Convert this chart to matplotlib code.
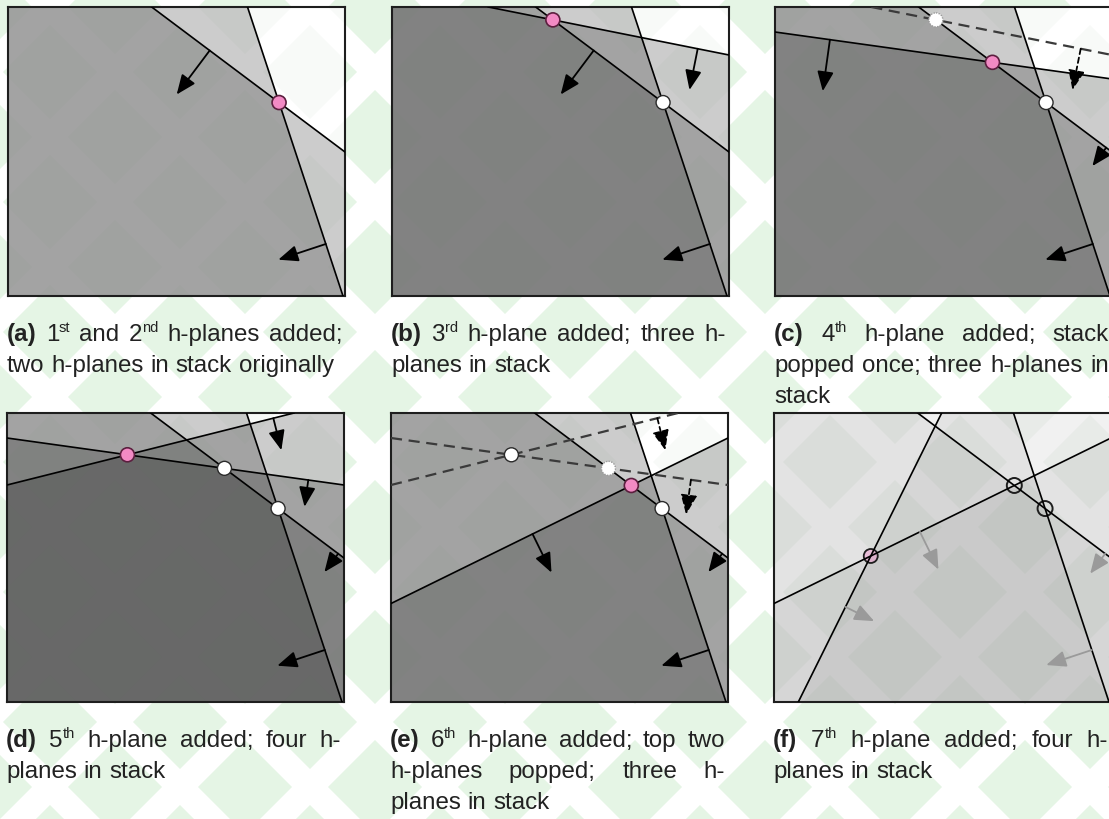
import numpy as np
import matplotlib.pyplot as plt
from matplotlib.patches import Polygon, Circle, FancyArrowPatch
from matplotlib.collections import PatchCollection

W, H = 1109, 819
BOX_W, BOX_H = 337, 289
FONT = 'Liberation Sans'
FS, FS_SUP = 17.4, 10.5
TEXT_C = '#222222'

# boundary lines of the h-planes, in box pixels (x right, y down)
# kept side is the left normal of p0 -> p1
plane_names = ['h1', 'h2', 'h3', 'h4', 'h5', 'h6', 'h7']
plane_p0 = [(239.5, 0), (143.7, 0), (96.3, 0), (0, 25), (0, 72), (0, 190.5), (24.3, 289)]
plane_p1 = [(335, 289), (337, 145), (337, 48), (337, 72), (287, 0), (337, 25), (167.7, 0)]

panel_left = [8, 392, 775, 7, 391, 774]
panel_top = [7, 7, 7, 413, 413, 413]
panel_active = [['h1', 'h2'], ['h1', 'h2', 'h3'], ['h1', 'h2', 'h4'],
                ['h1', 'h2', 'h4', 'h5'], ['h1', 'h2', 'h6'], ['h1', 'h2', 'h6', 'h7']]
panel_popped = [[], [], ['h3'], [], ['h4', 'h5'], []]
# (plane, position along line, length, dashed)
panel_arrows = [
    [('h2', 0.30, 55, False), ('h1', 0.82, 50, False)],
    [('h3', 0.87, 42, False), ('h2', 0.30, 55, False), ('h1', 0.82, 50, False)],
    [('h3', 0.87, 42, True), ('h4', 0.163, 52, False), ('h2', 0.97, 23, False), ('h1', 0.82, 50, False)],
    [('h5', 0.928, 33, False), ('h4', 0.894, 27, False), ('h2', 0.97, 23, False), ('h1', 0.82, 50, False)],
    [('h5', 0.928, 33, True), ('h4', 0.89, 35, True), ('h6', 0.42, 43, False),
     ('h2', 0.97, 23, False), ('h1', 0.82, 50, False)],
    [('h6', 0.433, 42, False), ('h7', 0.329, 32, False), ('h2', 0.97, 25, False), ('h1', 0.82, 48, False)],
]
# intersections marked with a circle
panel_points = [
    [('h1', 'h2', 'pink')],
    [('h2', 'h3', 'pink'), ('h1', 'h2', 'white')],
    [('h2', 'h3', 'ghost'), ('h2', 'h4', 'pink'), ('h1', 'h2', 'white')],
    [('h4', 'h5', 'pink'), ('h2', 'h4', 'white'), ('h1', 'h2', 'white')],
    [('h4', 'h5', 'white'), ('h2', 'h4', 'ghost'), ('h2', 'h6', 'pink'), ('h1', 'h2', 'white')],
    [('h6', 'h7', 'pink'), ('h2', 'h6', 'open'), ('h1', 'h2', 'open')],
]
captions = [
    ["(a) 1^st and 2^nd h-planes added;", "two h-planes in stack originally"],
    ["(b) 3^rd h-plane added; three h-", "planes in stack"],
    ["(c) 4^th h-plane added; stack", "popped once; three h-planes in", "stack"],
    ["(d) 5^th h-plane added; four h-", "planes in stack"],
    ["(e) 6^th h-plane added; top two", "h-planes popped; three h-", "planes in stack"],
    ["(f) 7^th h-plane added; four h-", "planes in stack"],
]

# background watermark lattice
LAT_X0, LAT_Y0, LAT_STEP, LAT_R = 830, 852, 130, 47


def geom(name):
    i = plane_names.index(name)
    p0 = np.array(plane_p0[i], float)
    p1 = np.array(plane_p1[i], float)
    u = (p1 - p0) / np.linalg.norm(p1 - p0)
    n = np.array([-u[1], u[0]])
    return p0, p1, u, n


def intersect(a, b):
    p0a, _, ua, _ = geom(a)
    p0b, _, ub, _ = geom(b)
    s, _ = np.linalg.solve(np.column_stack([ua, -ub]), p0b - p0a)
    return p0a + s * ua


def half_plane(name):
    p0, p1, u, n = geom(name)
    big = 3000
    return [p0 - u * big, p1 + u * big, p1 + u * big + n * big, p0 - u * big + n * big]


def diamonds(dx=0, dy=0):
    polys = []
    half = LAT_STEP // 2
    for j in range(-3, 18):
        cy = LAT_Y0 - half * j - dy
        off = half * (j % 2)
        for i in range(-8, 4):
            cx = LAT_X0 + off + LAT_STEP * i - dx
            polys.append(Polygon([(cx, cy - LAT_R), (cx + LAT_R, cy), (cx, cy + LAT_R), (cx - LAT_R, cy)]))
    return polys


fig = plt.figure(figsize=(W / 100, H / 100), dpi=100)
fig.patch.set_facecolor('white')
ax_bg = fig.add_axes([0, 0, 1, 1])
ax_bg.set_xlim(0, W)
ax_bg.set_ylim(H, 0)
ax_bg.axis('off')
ax_bg.add_collection(PatchCollection(diamonds(), facecolor='#e5f5e5', edgecolor='none'))


def draw_panel(k):
    left, top = panel_left[k], panel_top[k]
    faded = k == 5
    ax = fig.add_axes([left / W, 1 - (top + BOX_H) / H, BOX_W / W, BOX_H / H])
    ax.set_xlim(0, BOX_W)
    ax.set_ylim(BOX_H, 0)
    ax.set_xticks([])
    ax.set_yticks([])
    ax.set_facecolor('white')
    for s in ax.spines.values():
        s.set_linewidth(1.5)
        s.set_color('#1e1e1e')

    for name in panel_active[k]:
        ax.add_patch(Polygon(half_plane(name), closed=True, facecolor='black',
                             alpha=0.055 if faded else 0.2, lw=0, zorder=1))
    ax.add_collection(PatchCollection(diamonds(left, top), facecolor=(0.35, 0.55, 0.35),
                                      alpha=0.06 if faded else 0.04, edgecolor='none', zorder=1.5))

    for name in panel_active[k]:
        p0, p1, _, _ = geom(name)
        ax.axline(p0, p1, color='black', lw=1.2, zorder=3)
    for name in panel_popped[k]:
        p0, p1, _, _ = geom(name)
        ax.axline(p0, p1, color='#3a3a3a', lw=1.6, ls=(0, (5, 3)), zorder=3)

    for name, t, length, dashed in panel_arrows[k]:
        p0, p1, u, n = geom(name)
        tail = p0 + t * (p1 - p0)
        tip = tail + n * length
        col = '#9a9a9a' if faded else 'black'
        ax.add_patch(FancyArrowPatch(tail, tip, arrowstyle='-|>,head_length=0.6,head_width=0.25',
                                     mutation_scale=20, color=col, lw=1.3,
                                     linestyle=(0, (3, 2)) if dashed else '-',
                                     shrinkA=0, shrinkB=0, zorder=4))

    for a, b, kind in panel_points[k]:
        c = intersect(a, b)
        if faded and kind == 'pink':
            ax.add_patch(Circle(c, 7, facecolor=(0.93, 0.6, 0.8, 0.5), edgecolor='#1e1e1e', lw=1.3, zorder=2.5))
        elif kind == 'open':
            ax.add_patch(Circle(c, 7.5, facecolor='none', edgecolor='#1e1e1e', lw=1.4, zorder=2.5))
        elif kind == 'pink':
            ax.add_patch(Circle(c, 7, facecolor='#f28ac4', edgecolor='#5c1f3f', lw=1.2, zorder=5))
        elif kind == 'white':
            ax.add_patch(Circle(c, 7, facecolor='white', edgecolor='#2a2a2a', lw=1.0, zorder=5))
        else:
            ax.add_patch(Circle(c, 7, facecolor='white', edgecolor='#9a9a9a', lw=1.0,
                                ls=(0, (1, 1)), zorder=5))


renderer = fig.canvas.get_renderer()


def width_of(t):
    return t.get_window_extent(renderer=renderer).width


def space_width():
    t1 = ax_bg.text(0, 0, 'x x', fontsize=FS, family=FONT)
    t2 = ax_bg.text(0, 0, 'xx', fontsize=FS, family=FONT)
    sp = width_of(t1) - width_of(t2)
    t1.remove()
    t2.remove()
    return sp


def draw_caption(k, sp):
    x0 = panel_left[k] - 1
    x1 = x0 + 335
    lines = captions[k]
    for li, line in enumerate(lines):
        y = panel_top[k] + BOX_H + 45 + 31 * li
        words = []
        for w in line.split(' '):
            if w.startswith('(') and w.endswith(')'):
                pieces = [(w, 'bold', FS, 0)]
            elif '^' in w:
                b, s = w.split('^')
                pieces = [(b, 'normal', FS, 0), (s, 'normal', FS_SUP, -9)]
            else:
                pieces = [(w, 'normal', FS, 0)]
            objs = []
            for txt, weight, size, dy in pieces:
                t = ax_bg.text(0, y + dy, txt, fontsize=size, fontweight=weight, family=FONT,
                               color=TEXT_C, ha='left', va='baseline')
                objs.append((t, width_of(t)))
            words.append(objs)
        widths = [sum(wd for _, wd in objs) for objs in words]
        if li == len(lines) - 1 or len(words) < 2:
            gap = sp
        else:
            gap = (x1 - x0 - sum(widths)) / (len(words) - 1)
        x = x0
        for objs, wd in zip(words, widths):
            xx = x
            for t, pw in objs:
                t.set_x(xx)
                xx += pw
            x += wd + gap


for k in range(6):
    draw_panel(k)

sp = space_width()
for k in range(6):
    draw_caption(k, sp)

fig.savefig('out.png', dpi=100)
